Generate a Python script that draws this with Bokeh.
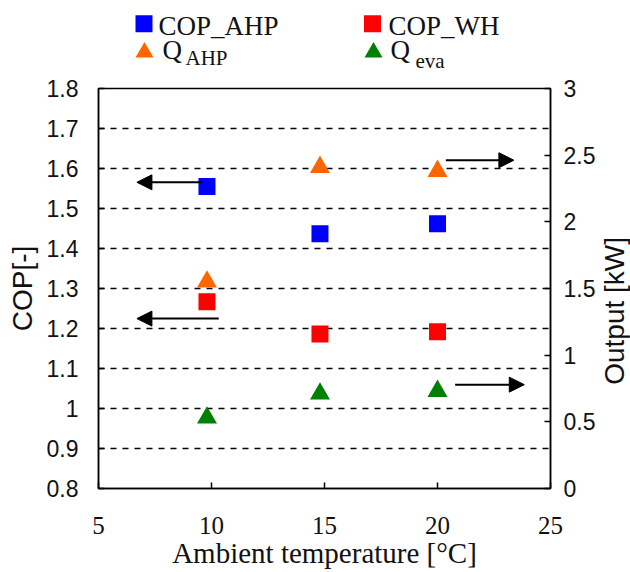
import math
from bokeh.plotting import figure
from bokeh.layouts import column, row
from bokeh.models import (Range1d, LinearAxis, FixedTicker, CustomJSTickFormatter,
                          Arrow, NormalHead)
from bokeh.core.properties import value
from bokeh.embed import file_html
from bokeh.resources import INLINE

# ---- data ----
temps = [9.8, 14.8, 20.0]
cop_ahp = [1.555, 1.437, 1.462]
cop_wh = [1.267, 1.186, 1.192]
q_ahp = [1.55, 2.41, 2.38]
q_eva = [0.53, 0.71, 0.73]

x_ticks = [5, 10, 15, 20, 25]
cop_ticks = [0.8, 0.9, 1.0, 1.1, 1.2, 1.3, 1.4, 1.5, 1.6, 1.7, 1.8]
out_ticks = [0, 0.5, 1.0, 1.5, 2.0, 2.5, 3.0]

# arrows (annotation): start x, end x, y, axis
arrow_x0 = [9.6, 10.32, 20.37, 20.78]
arrow_x1 = [6.70, 6.70, 23.38, 23.84]
arrow_y = [1.5655, 1.2247, 2.462, 0.779]
arrow_axis = ["default", "default", "right", "right"]

# legend entries
leg_main = ["COP_AHP", "COP_WH", "Q", "Q"]
leg_sub = ["AHP", "eva"]
leg_colors = ["#0000FF", "#FF0000", "#FF6600", "#008000"]
leg_markers = ["square", "square", "triangle", "triangle"]

right_title = "Output [kW]"

SERIF = "Liberation Serif"
SANS = "Liberation Sans"
TXT = "#111111"

FRAME_L, FRAME_R = 98, 550
STRIP_W = 30
LEG_H = 76
MAIN_H = 572 - LEG_H
TOP_B = 88 - LEG_H
BOT_B = 84

# ---------- legend strip (small canvas above the chart) ----------
lg = figure(width=630, height=LEG_H, output_backend="svg", toolbar_location=None,
            x_range=Range1d(FRAME_L, FRAME_R), y_range=Range1d(LEG_H, 0),
            x_axis_type=None, y_axis_type=None,
            min_border_left=FRAME_L, min_border_right=630 - FRAME_R,
            min_border_top=0, min_border_bottom=0)
lg.outline_line_color = None
lg.xgrid.grid_line_color = None
lg.ygrid.grid_line_color = None
lg.background_fill_color = "white"
lg.border_fill_color = "white"

mk_x = [143.5, 372, 144, 373]
mk_y = [23.3, 23.3, 51.8, 51.8]
mk_size = [17, 17, 18, 18]
lg.scatter(mk_x, mk_y, marker=leg_markers, size=mk_size, fill_color=leg_colors, line_color=None)
lg.text(x=[158, 388, 162, 390], y=[25.5, 25.5, 49.5, 49.5], text=leg_main,
        text_font=value(SERIF), text_font_size=value("27px"), text_baseline="alphabetic",
        text_color=TXT)
lg.text(x=[185, 415], y=[57.5, 60.5], text=leg_sub,
        text_font=value(SERIF), text_font_size=value("21px"), text_baseline="alphabetic",
        text_color=TXT)

# ---------- main chart ----------
p = figure(width=630 - STRIP_W, height=MAIN_H, output_backend="svg", toolbar_location=None,
           x_range=Range1d(5, 25), y_range=Range1d(0.8, 1.8),
           min_border_left=FRAME_L, min_border_right=630 - STRIP_W - FRAME_R,
           min_border_top=TOP_B, min_border_bottom=BOT_B)
p.extra_y_ranges = {"right": Range1d(0, 3)}

p.background_fill_color = "white"
p.border_fill_color = "white"
p.outline_line_color = "black"
p.outline_line_width = 1.5

p.xgrid.grid_line_color = None
p.ygrid.ticker = FixedTicker(ticks=cop_ticks)
p.ygrid.grid_line_color = "black"
p.ygrid.grid_line_dash = "6 6"
p.ygrid.grid_line_width = 1.5

fmt = CustomJSTickFormatter(code="return String(Math.round(tick*10)/10);")

xa = p.xaxis[0]
xa.ticker = FixedTicker(ticks=x_ticks)
xa.major_label_text_font = SERIF
xa.major_label_text_font_size = "25px"
xa.major_label_text_color = TXT
xa.major_label_standoff = 28
xa.major_tick_in = 6
xa.major_tick_out = 0
xa.minor_tick_line_color = None
xa.axis_line_width = 1.5
xa.major_tick_line_width = 1.5
xa.axis_label = "Ambient temperature [°C]"
xa.axis_label_text_font = SERIF
xa.axis_label_text_font_size = "29px"
xa.axis_label_text_font_style = "normal"
xa.axis_label_text_color = TXT
xa.axis_label_standoff = 0

ya = p.yaxis[0]
ya.ticker = FixedTicker(ticks=cop_ticks)
ya.formatter = fmt
ya.major_label_text_font = SANS
ya.major_label_text_font_size = "23px"
ya.major_label_text_color = TXT
ya.major_label_standoff = 20
ya.major_tick_in = 6
ya.major_tick_out = 0
ya.minor_tick_line_color = None
ya.axis_line_width = 1.5
ya.major_tick_line_width = 1.5
ya.axis_label = "COP[-]"
ya.axis_label_text_font = SANS
ya.axis_label_text_font_size = "28px"
ya.axis_label_text_font_style = "normal"
ya.axis_label_text_color = TXT
ya.axis_label_standoff = 6

ra = LinearAxis(y_range_name="right", ticker=FixedTicker(ticks=out_ticks), formatter=fmt)
ra.major_label_text_font = SANS
ra.major_label_text_font_size = "23px"
ra.major_label_text_color = TXT
ra.major_label_standoff = 13
ra.major_tick_in = 6
ra.major_tick_out = 0
ra.minor_tick_line_color = None
ra.axis_line_width = 1.5
ra.major_tick_line_width = 1.5
p.add_layout(ra, "right")

p.scatter(temps, cop_ahp, marker="square", size=17, fill_color="#0000FF", line_color=None)
p.scatter(temps, cop_wh, marker="square", size=17, fill_color="#FF0000", line_color=None)
p.scatter(temps, q_ahp, marker="triangle", size=20, fill_color="#FF6600", line_color=None,
          y_range_name="right")
p.scatter(temps, q_eva, marker="triangle", size=20, fill_color="#008000", line_color=None,
          y_range_name="right")

for x0, x1, yy, ax in zip(arrow_x0, arrow_x1, arrow_y, arrow_axis):
    p.add_layout(Arrow(end=NormalHead(size=15, fill_color="black", line_color="black"),
                       x_start=x0, y_start=yy, x_end=x1, y_end=yy,
                       line_color="black", line_width=2, y_range_name=ax))

# ---------- right-axis title strip ----------
rs = figure(width=STRIP_W, height=MAIN_H, output_backend="svg", toolbar_location=None,
            x_range=Range1d(630 - STRIP_W, 630), y_range=Range1d(0.8, 1.8),
            x_axis_type=None, y_axis_type=None,
            min_border_left=0, min_border_right=0,
            min_border_top=TOP_B, min_border_bottom=BOT_B)
rs.outline_line_color = None
rs.xgrid.grid_line_color = None
rs.ygrid.grid_line_color = None
rs.background_fill_color = "white"
rs.border_fill_color = "white"
rs.text(x=[614], y=[1.244], text=[right_title], angle=math.pi / 2,
        text_font=value(SANS), text_font_size=value("28px"), text_align="center",
        text_baseline="alphabetic", text_color=TXT)

layout = column(lg, row(p, rs, spacing=0), spacing=0)
open("out.html", "w").write(file_html(layout, INLINE))
